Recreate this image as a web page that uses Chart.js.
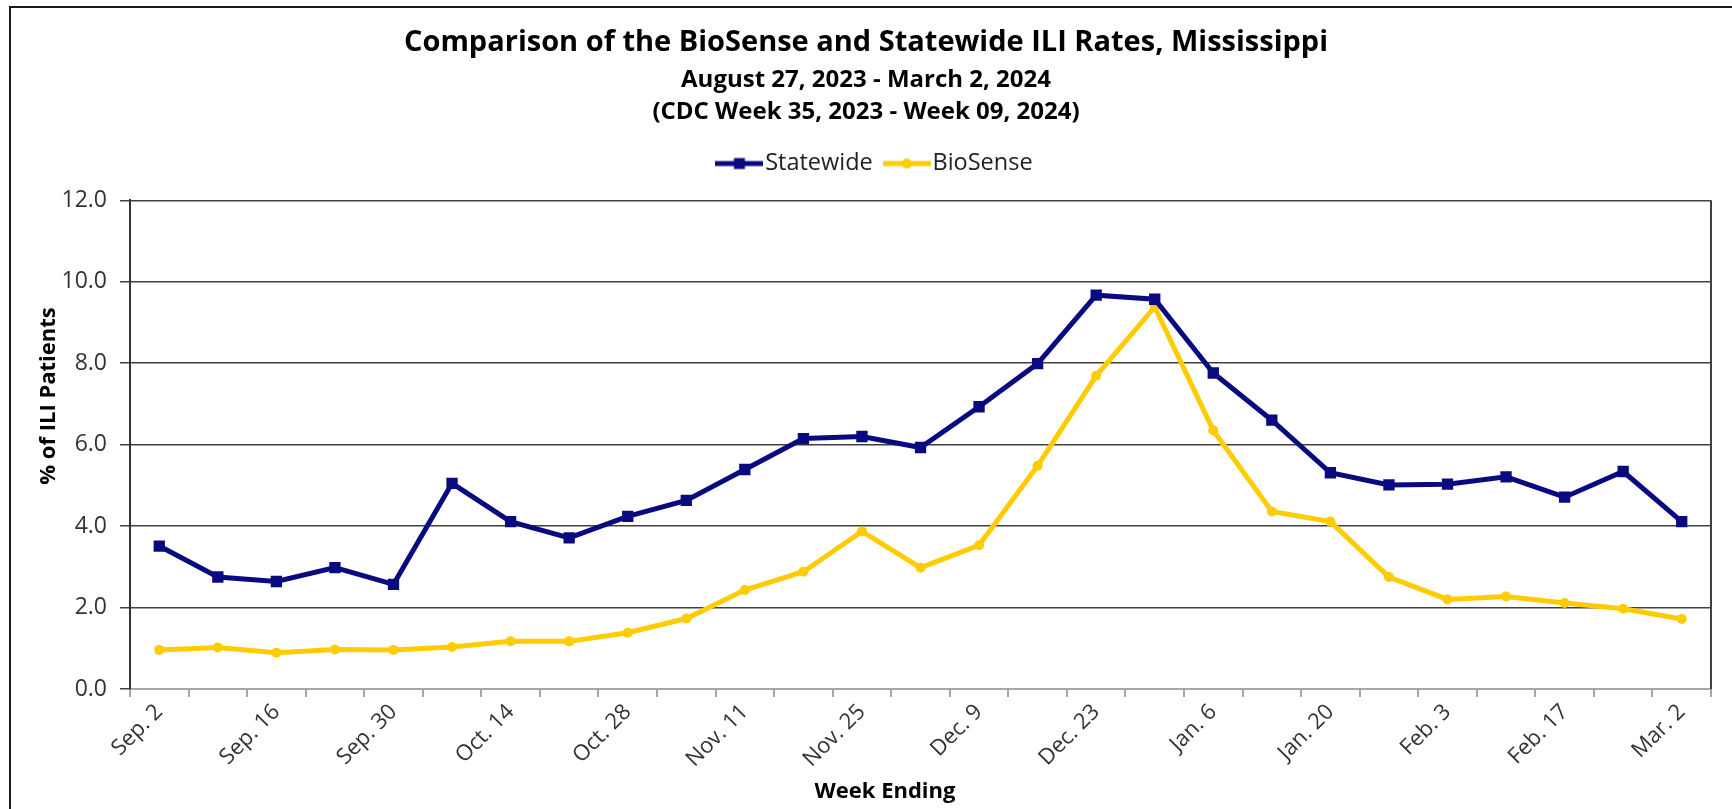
<!DOCTYPE html>
<html>
<head>
<meta charset="utf-8">
<script src="https://cdn.jsdelivr.net/npm/chart.js@4.4.1/dist/chart.umd.min.js"></script>
<style>
  html, body { margin: 0; padding: 0; background: #fff; }
  #wrap { width: 1732px; height: 809px; position: relative; }
</style>
</head>
<body>
<div id="wrap"><canvas id="c" width="1732" height="809"></canvas></div>
<script>
const weeks = ["Sep. 2","Sep. 9","Sep. 16","Sep. 23","Sep. 30","Oct. 7","Oct. 14","Oct. 21","Oct. 28",
  "Nov. 4","Nov. 11","Nov. 18","Nov. 25","Dec. 2","Dec. 9","Dec. 16","Dec. 23","Dec. 30",
  "Jan. 6","Jan. 13","Jan. 20","Jan. 27","Feb. 3","Feb. 10","Feb. 17","Feb. 24","Mar. 2"];
const statewide = [3.51,2.75,2.64,2.98,2.57,5.05,4.11,3.71,4.24,4.63,5.39,6.15,6.2,5.93,6.93,7.99,9.67,9.57,7.76,6.6,5.31,5.01,5.03,5.21,4.71,5.34,4.11];
const biosense = [0.96,1.02,0.89,0.97,0.96,1.03,1.17,1.17,1.38,1.73,2.43,2.88,3.87,2.98,3.53,5.48,7.69,9.38,6.35,4.36,4.11,2.75,2.2,2.27,2.11,1.97,1.72];
const yTicks = [0,2,4,6,8,10,12];

const NAVY = '#0a0a80';
const GOLD = '#ffcc00';
const FONT = "'Open Sans', 'Noto Sans', sans-serif";

function legendIcon(color, shape) {
  const cv = document.createElement('canvas');
  cv.width = 48; cv.height = 14;
  const g = cv.getContext('2d');
  g.strokeStyle = color; g.lineWidth = 5;
  g.beginPath(); g.moveTo(0, 7); g.lineTo(48, 7); g.stroke();
  g.fillStyle = color;
  if (shape === 'rect') { g.fillRect(18.5, 1.5, 11, 11); }
  else { g.beginPath(); g.arc(24, 7, 5, 0, Math.PI * 2); g.fill(); }
  return cv;
}
const icons = [legendIcon(NAVY, 'rect'), legendIcon(GOLD, 'circle')];

const framePlugin = {
  id: 'frame',
  afterLayout(chart) {
    if (chart.legend) { chart.legend.left += 13; chart.legend.right += 13; }
  },
  beforeDraw(chart) {
    const c = chart.ctx;
    c.save();
    c.fillStyle = '#fff';
    c.fillRect(0, 0, chart.width, chart.height);
    c.strokeStyle = '#1a1a1a'; c.lineWidth = 2;
    c.beginPath(); c.moveTo(10, chart.height); c.lineTo(10, 7); c.lineTo(chart.width, 7); c.stroke();
    c.restore();
  },
  afterDraw(chart) {
    const a = chart.chartArea, c = chart.ctx;
    c.save();
    c.strokeStyle = '#404040'; c.lineWidth = 2;
    c.beginPath(); c.moveTo(a.right, a.top); c.lineTo(a.right, a.bottom); c.stroke();
    c.fillStyle = '#000';
    c.font = "bold 22px " + FONT;
    c.textAlign = 'center'; c.textBaseline = 'middle';
    c.fillText('Week Ending', 885, 792);
    c.translate(49, 396);
    c.rotate(-Math.PI / 2);
    c.fillText('% of ILI Patients', 0, 0);
    c.restore();
  }
};

new Chart(document.getElementById('c'), {
  type: 'line',
  data: {
    labels: weeks,
    datasets: [
      { label: 'Statewide', data: statewide, borderColor: NAVY, backgroundColor: NAVY, borderWidth: 5,
        pointStyle: 'rect', pointRadius: 8, pointBorderWidth: 0, tension: 0, xAxisID: 'x', yAxisID: 'y' },
      { label: 'BioSense', data: biosense, borderColor: GOLD, backgroundColor: GOLD, borderWidth: 5,
        pointStyle: 'circle', pointRadius: 5, pointBorderWidth: 0, tension: 0, xAxisID: 'x', yAxisID: 'y' }
    ]
  },
  options: {
    responsive: false,
    animation: false,
    devicePixelRatio: 1,
    layout: { padding: { top: 0, right: 21, bottom: 0, left: 21 } },
    plugins: {
      title: { display: true, text: 'Comparison of the BioSense and Statewide ILI Rates, Mississippi',
        color: '#000', font: { family: FONT, size: 29, weight: 'bold', lineHeight: 1.2 }, padding: { top: 25, bottom: 4 } },
      subtitle: { display: true, text: ['August 27, 2023 - March 2, 2024', '(CDC Week 35, 2023 - Week 09, 2024)'],
        color: '#000', font: { family: FONT, size: 24, weight: 'bold', lineHeight: '32px' }, padding: { top: 0, bottom: 4 } },
      legend: {
        display: true, position: 'top',
        labels: {
          usePointStyle: true, pointStyleWidth: 28, boxHeight: 14, padding: 20,
          color: '#222', font: { family: FONT, size: 23.5 },
          generateLabels(chart) {
            return chart.data.datasets.map((d, i) => ({
              text: d.label, pointStyle: icons[i], fillStyle: d.borderColor, strokeStyle: d.borderColor,
              lineWidth: 0, hidden: false, datasetIndex: i, fontColor: '#222'
            }));
          }
        }
      },
      tooltip: { enabled: false }
    },
    scales: {
      gap: {
        type: 'category', position: 'top', display: true,
        afterFit(s) { s.height = 15; },
        grid: { display: false }, border: { display: false }, ticks: { display: false }
      },
      x: {
        type: 'category',
        offset: true,
        afterFit(s) { s.height = 120; },
        grid: { display: true, drawOnChartArea: false, drawTicks: true, tickLength: 8, offset: true, color: '#a6a6a6', lineWidth: 2 },
        border: { display: true, color: '#a6a6a6', width: 2 },
        ticks: {
          autoSkip: false, minRotation: 45, maxRotation: 45, padding: 2,
          color: '#333', font: { family: FONT, size: 22 },
          callback(v, i) { return i % 2 === 0 ? weeks[i] : ''; }
        },
        title: { display: false }
      },
      y: {
        min: 0, max: 12,
        afterFit(s) { s.width = 109; },
        afterBuildTicks(s) { s.ticks = yTicks.map(v => ({ value: v })); },
        grid: { color: '#404040', lineWidth: 1.5, tickLength: 10, drawTicks: true },
        border: { display: true, color: '#333', width: 2 },
        ticks: { padding: 13, color: '#333', font: { family: FONT, size: 23 }, callback(v) { return Number(v).toFixed(1); } }
      }
    }
  },
  plugins: [framePlugin]
});
</script>
</body>
</html>
